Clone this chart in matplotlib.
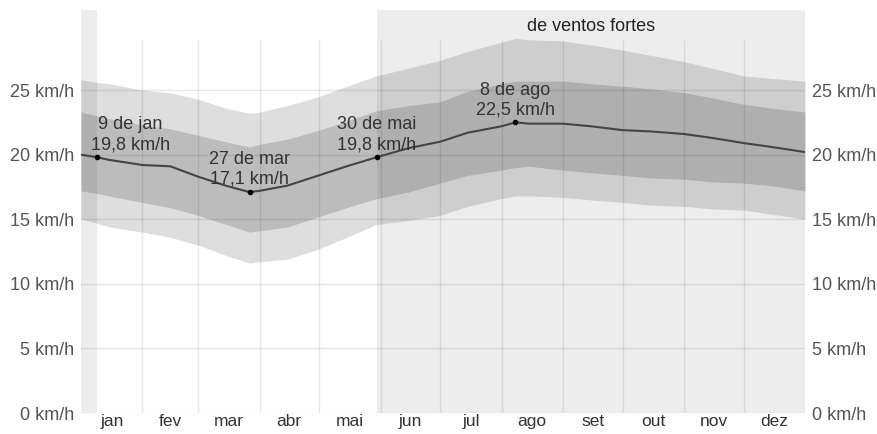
import numpy as np
import matplotlib.pyplot as plt

# day of year (0 = 1 jan) and wind speed percentiles in km/h
days = [0, 8, 14, 31, 45, 59, 73, 85, 90, 104, 120, 134, 149, 165, 181,
        195, 212, 219, 226, 243, 257, 273, 287, 304, 318, 334, 348, 365]
mean_speed = [20.0, 19.8, 19.6, 19.2, 19.1, 18.3, 17.6, 17.1, 17.2, 17.6, 18.4, 19.1, 19.8, 20.5, 21.0,
              21.7, 22.2, 22.5, 22.4, 22.4, 22.2, 21.9, 21.8, 21.6, 21.3, 20.9, 20.6, 20.2]
p25 = [17.2, 17.0, 16.8, 16.3, 15.9, 15.3, 14.6, 14.0, 14.1, 14.4, 15.2, 15.9, 16.6, 17.1, 17.8,
       18.4, 18.8, 19.0, 19.1, 18.8, 18.6, 18.4, 18.2, 18.1, 17.9, 17.8, 17.6, 17.2]
p75 = [23.3, 23.0, 22.8, 22.3, 22.0, 21.5, 21.0, 20.6, 20.8, 21.2, 21.9, 22.6, 23.4, 23.8, 24.1,
       24.9, 25.5, 25.7, 25.7, 25.7, 25.5, 25.3, 25.1, 24.8, 24.4, 23.9, 23.6, 23.3]
p10 = [15.0, 14.7, 14.4, 14.0, 13.6, 13.0, 12.2, 11.6, 11.7, 11.9, 12.7, 13.6, 14.6, 14.9, 15.3,
       16.0, 16.6, 16.8, 16.8, 16.7, 16.5, 16.3, 16.1, 16.0, 15.8, 15.7, 15.4, 15.0]
p90 = [25.8, 25.6, 25.5, 25.0, 24.8, 24.3, 23.6, 23.2, 23.3, 23.8, 24.5, 25.3, 26.1, 26.7, 27.3,
       28.0, 28.7, 29.0, 28.9, 28.8, 28.5, 28.1, 27.7, 27.2, 26.7, 26.1, 25.9, 25.7]

month_starts = [0, 31, 59, 90, 120, 151, 181, 212, 243, 273, 304, 334, 365]
month_labels = ['jan', 'fev', 'mar', 'abr', 'mai', 'jun', 'jul', 'ago', 'set', 'out', 'nov', 'dez']
yticks = [0, 5, 10, 15, 20, 25]

# windy season: 30 de mai -> 9 de jan
windy_start = 149
windy_end = 8
windy_label = 'de ventos fortes'

marked_days = [8, 85, 149, 219]
marked_labels = ['9 de jan\n19,8 km/h', '27 de mar\n17,1 km/h', '30 de mai\n19,8 km/h', '8 de ago\n22,5 km/h']
label_dx = [24, 0, 0, 0]

plt.rcParams['font.family'] = ['Liberation Sans', 'DejaVu Sans']
plt.rcParams['font.size'] = 13

fig = plt.figure(figsize=(8.77, 4.34), dpi=100)
ax = fig.add_axes([81 / 877, 21 / 434, 724 / 877, 403 / 434])
ymax = 31.2

# windy season shading
ax.axvspan(windy_start, 365, color='#ededed', zorder=0, lw=0)
ax.axvspan(0, windy_end, color='#ededed', zorder=0, lw=0)
ax.text((windy_start + 365) / 2, 29.95, windy_label, ha='center', va='center', color='#222222')

# percentile bands
ax.fill_between(days, p10, p90, color='black', alpha=0.13, lw=0, zorder=1)
ax.fill_between(days, p25, p75, color='black', alpha=0.15, lw=0, zorder=2)

# grid
for y in yticks:
    ax.axhline(y, color='black', alpha=0.09, lw=1, zorder=3)
ax.vlines(month_starts[1:-1], 0, 28.9, color='black', alpha=0.09, lw=1, zorder=3)

ax.plot(days, mean_speed, color='#444444', lw=1.5, zorder=4)

for d, lab, dx in zip(marked_days, marked_labels, label_dx):
    v = mean_speed[days.index(d)]
    ax.plot(d, v, 'o', color='black', ms=3, zorder=5)
    ax.annotate(lab, (d, v), xytext=(dx, 3), textcoords='offset points',
                ha='center', va='bottom', color='#333333', linespacing=1.2, zorder=6)

ax.set_xlim(0, 365)
ax.set_ylim(0, ymax)
ax.set_yticks(yticks)
ax.set_yticklabels([f'{y} km/h' for y in yticks])
ax.tick_params(axis='y', length=0, pad=5, colors='#555555', labelright=True)
ax.set_xticks([(a + b) / 2 for a, b in zip(month_starts[:-1], month_starts[1:])])
ax.set_xticklabels(month_labels)
ax.tick_params(axis='x', length=0, pad=1, labelsize=12.5, colors='#333333')
for s in ax.spines.values():
    s.set_visible(False)

fig.savefig('out.png', dpi=100)
